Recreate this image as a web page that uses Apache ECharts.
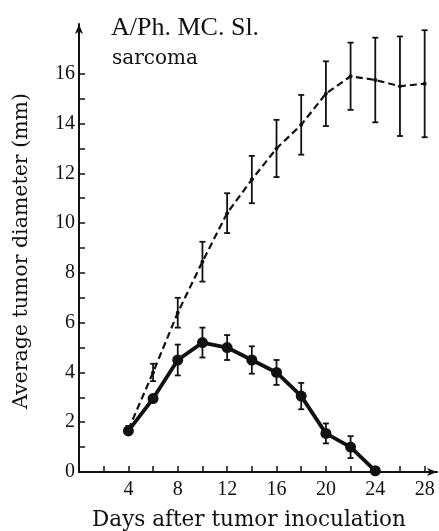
<!DOCTYPE html>
<html lang="en">
<head>
    <meta charset="UTF-8">
    <title>A/Ph. MC. Sl. sarcoma</title>
    <script src="https://cdn.jsdelivr.net/npm/echarts@6/dist/echarts.min.js"></script>
    <style>
        html, body { margin: 0; padding: 0; background: #fff; }
    </style>
</head>
<body>
<div id="chart" style="width:439px;height:531px;"></div>
<script>
    // days after inoculation
    var daysUntreated = [4, 6, 8, 10, 12, 14, 16, 18, 20, 22, 24, 26, 28];
    var meanUntreated = [1.7, 4.0, 6.4, 8.45, 10.4, 11.75, 13.0, 13.95, 15.2, 15.9, 15.75, 15.5, 15.6];
    var errUntreated  = [0.15, 0.35, 0.6, 0.8, 0.8, 0.95, 1.15, 1.2, 1.3, 1.35, 1.7, 2.0, 2.15];

    var daysTreated = [4, 6, 8, 10, 12, 14, 16, 18, 20, 22, 24];
    var meanTreated = [1.65, 2.95, 4.5, 5.2, 5.0, 4.5, 4.0, 3.05, 1.55, 1.0, 0.05];
    var errTreated  = [0, 0, 0.62, 0.6, 0.5, 0.55, 0.5, 0.53, 0.4, 0.44, 0];

    var xLabels = [4, 8, 12, 16, 20, 24, 28];
    var xTicks  = [2, 4, 6, 8, 10, 12, 14, 16, 18, 20, 22, 24, 26, 28];
    var yLabels = [0, 2, 4, 6, 8, 10, 12, 14, 16];
    var yTicks  = [1, 2, 3, 4, 5, 6, 7, 8, 9, 10, 11, 12, 13, 14, 15, 16];

    function pairs(xs, ys) {
        var out = [];
        for (var i = 0; i < xs.length; i++) out.push([xs[i], ys[i]]);
        return out;
    }
    function bars(xs, ys, es) {
        var out = [];
        for (var i = 0; i < xs.length; i++) {
            if (es[i] > 0) out.push([xs[i], ys[i] - es[i], ys[i] + es[i]]);
        }
        return out;
    }
    function errorBar(width) {
        return function (params, api) {
            var lo = api.coord([api.value(0), api.value(1)]);
            var hi = api.coord([api.value(0), api.value(2)]);
            var cap = 3;
            var st = { stroke: '#111', lineWidth: width };
            return {
                type: 'group',
                children: [
                    { type: 'line', shape: { x1: lo[0], y1: lo[1], x2: hi[0], y2: hi[1] }, style: st },
                    { type: 'line', shape: { x1: lo[0] - cap, y1: lo[1], x2: lo[0] + cap, y2: lo[1] }, style: st },
                    { type: 'line', shape: { x1: hi[0] - cap, y1: hi[1], x2: hi[0] + cap, y2: hi[1] }, style: st }
                ]
            };
        };
    }

    var font = 'Liberation Serif';
    var myChart = echarts.init(document.getElementById('chart'));
    var option = {
        animation: false,
        backgroundColor: '#fff',
        title: [
            { text: 'A/Ph. MC. Sl.', left: 106, top: 10,
              textStyle: { fontFamily: font, fontSize: 26, fontWeight: 'normal', color: '#111' } },
            { text: 'sarcoma', left: 107, top: 44,
              textStyle: { fontFamily: 'DejaVu Serif', fontSize: 20, fontWeight: 'normal', color: '#111' } }
        ],
        graphic: [
            { type: 'text', x: 249, y: 520,
              style: { text: 'Days after tumor inoculation', fontFamily: 'DejaVu Serif', fontSize: 21.5,
                       fill: '#111', align: 'center', verticalAlign: 'middle' } },
            { type: 'text', x: 22, y: 251, rotation: Math.PI / 2,
              style: { text: 'Average tumor diameter (mm)', fontFamily: 'DejaVu Serif', fontSize: 20.5,
                       fill: '#111', align: 'center', verticalAlign: 'middle' } }
        ],
        grid: { left: 79, right: 2, top: 24, bottom: 59, outerBoundsMode: 'none' },
        xAxis: {
            type: 'value', min: 0, max: 29, interval: 4,
            splitLine: { show: false },
            axisLine: { lineStyle: { color: '#111', width: 2 }, symbol: ['none', 'arrow'], symbolSize: [6, 10] },
            axisTick: { inside: true, length: 6, customValues: xTicks, lineStyle: { color: '#111', width: 1.5 } },
            axisLabel: {
                fontFamily: font, fontSize: 20, color: '#111', margin: 8, customValues: xLabels
            }
        },
        yAxis: {
            type: 'value', min: 0, max: 18, interval: 2,
            splitLine: { show: false },
            axisLine: { lineStyle: { color: '#111', width: 2 }, symbol: ['none', 'arrow'], symbolSize: [6, 10] },
            axisTick: { inside: true, length: 6, customValues: yTicks, lineStyle: { color: '#111', width: 1.5 } },
            axisLabel: {
                fontFamily: font, fontSize: 20, color: '#111', margin: 4, customValues: yLabels
            }
        },
        series: [
            {
                type: 'line', data: pairs(daysUntreated, meanUntreated),
                symbol: 'circle', symbolSize: 4,
                lineStyle: { color: '#111', width: 2.2, type: [7, 4] },
                itemStyle: { color: '#111' }
            },
            {
                type: 'custom', data: bars(daysUntreated, meanUntreated, errUntreated),
                renderItem: errorBar(1.8), z: 3
            },
            {
                type: 'line', data: pairs(daysTreated, meanTreated),
                symbol: 'circle', symbolSize: 11,
                lineStyle: { color: '#111', width: 3.8 },
                itemStyle: { color: '#111' }
            },
            {
                type: 'custom', data: bars(daysTreated, meanTreated, errTreated),
                renderItem: errorBar(1.8), z: 3
            }
        ]
    };
    myChart.setOption(option);
</script>
</body>
</html>
